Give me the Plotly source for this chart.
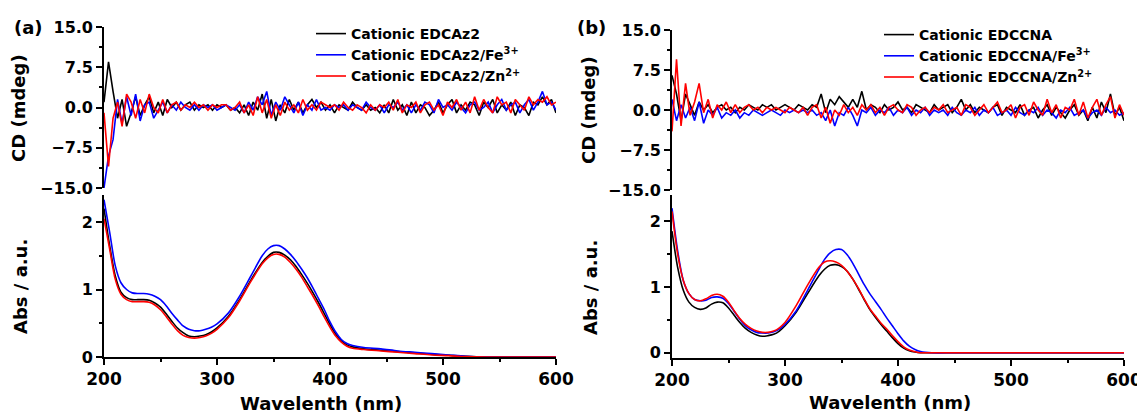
import plotly.graph_objects as go

# CD spectra, sampled every 4 nm from 200 to 600 nm
cd_wl = list(range(200, 601, 4))

cd_a_black = [1.0, 8.5, 3.0, -2.0, 1.5, -3.5, -1.0, 2.0, -1.5, 0.5,
              2.0, -1.0, 1.0, -1.5, 1.5, 0.0, 1.0, -0.5, 0.5, 1.0,
              -0.5, 0.5, 0.0, 0.5, -0.5, 0.5, 0.0, 0.5, -0.5, 0.0,
              -1.0, 0.5, -1.5, 1.0, -0.5, 2.5, -2.0, 1.5, -2.5, 0.5,
              -1.0, 1.5, -0.5, 1.0, -1.0, 0.5, 1.5, 0.0, 1.0, -0.5,
              0.5, -1.0, 0.5, 0.0, -0.5, 1.0, 0.0, -0.5, 0.5, -0.5,
              0.0, -1.0, 0.5, -1.0, 1.5, -0.5, 0.5, -1.5, 1.0, -1.0,
              0.5, 0.0, -1.5, -0.5, 1.0, -1.0, 0.5, 1.5, -1.0, 0.5,
              -0.5, 1.0, 0.5, -1.5, 1.0, 0.0, 1.5, -1.0, 0.5, -0.5,
              1.0, -1.5, 0.5, 0.0, -1.5, 1.0, 0.5, 2.0, 0.5, 1.5,
              -1.0]
cd_a_blue = [-15.0, -9.0, -6.0, 1.5, -3.0, 2.0, -1.5, 2.5, -2.5, 0.5,
             1.0, -2.0, -0.5, 1.0, -1.0, 0.5, -0.5, 1.0, 0.0, -0.5,
             0.5, -0.5, 0.5, 0.0, 0.5, -0.5, 0.0, 0.5, 0.0, -0.5,
             0.5, -1.0, 1.0, -0.5, 2.0, 0.5, 3.0, -1.5, 1.0, -0.5,
             2.0, 0.5, -1.0, 1.0, -1.5, 0.5, -0.5, 1.5, -0.5, 0.0,
             -0.5, 0.5, 0.0, 0.5, -0.5, 0.5, 0.0, -0.5, 1.0, 0.0,
             -0.5, 0.5, -1.0, 0.5, 0.0, 1.0, -0.5, 0.5, -1.0, 0.5,
             -0.5, 1.0, 0.5, -1.0, 1.5, 0.0, 0.5, -0.5, 1.0, 0.0,
             -1.0, 0.5, 1.0, -0.5, 0.0, 1.0, -1.0, 0.5, 1.5, -0.5,
             0.5, 1.0, -1.0, 0.5, 1.5, -0.5, 1.0, 3.0, 0.5, 1.0,
             -0.5]
cd_a_red = [-1.0, -11.0, -2.0, 1.0, -3.5, 2.5, 1.0, -2.0, 1.5, -1.0,
            2.5, 0.0, -1.0, 1.5, -1.0, 0.5, 1.0, -0.5, 0.5, 0.0,
            1.0, 0.0, 0.5, -0.5, 0.5, 0.0, 0.5, 0.5, -0.5, 0.0,
            1.0, -1.0, 0.5, -1.5, 2.0, -1.0, 1.5, -2.0, 0.5, -1.5,
            1.0, -0.5, 0.5, -1.0, 1.5, -0.5, 0.5, -0.5, 1.0, 0.5,
            0.0, 0.5, -0.5, 1.0, 0.0, -0.5, 0.5, 0.0, -1.0, 0.5,
            -0.5, 0.5, 0.0, 1.0, -0.5, 1.5, -1.0, 0.5, 0.0, 1.0,
            -1.0, 0.5, 1.0, -0.5, 0.5, -1.5, 1.0, 0.0, 1.5, -0.5,
            1.0, -1.0, 2.0, -0.5, 1.5, 0.0, -1.0, 2.0, 0.5, 1.0,
            -1.0, 1.5, 0.5, -0.5, 2.0, 0.5, 1.5, 1.0, 2.0, 0.5,
            1.0]

cd_b_black = [6.5, 3.0, -2.0, 3.0, 1.0, -1.0, 1.5, 0.0, 1.0, -0.5,
              0.5, 1.0, 0.0, 0.5, -0.5, 0.5, 0.0, 1.0, 0.5, 0.0,
              1.0, 0.5, 1.0, 0.0, 0.5, 1.0, 0.5, 0.0, 1.0, 0.5,
              0.0, 1.0, 0.5, 3.0, -0.5, 2.0, 1.0, 2.5, 1.5, 0.5,
              2.0, 0.5, 3.5, 0.0, 1.0, 0.5, -0.5, 1.0, 0.0, 0.5,
              1.5, 0.0, 0.5, -0.5, 1.0, 0.5, 0.0, -0.5, 1.0, 0.0,
              0.5, 1.0, -0.5, 0.5, 2.0, 0.0, 1.0, -0.5, 0.5, 0.0,
              -0.5, 0.5, 1.0, -1.0, 0.5, 0.0, -0.5, 1.0, -1.0, 0.0,
              0.5, -1.5, 0.0, 1.0, -1.0, 0.5, -0.5, -1.5, 0.0, 1.0,
              -1.0, 0.0, -2.0, 0.5, -1.5, 1.5, -0.5, 3.0, -1.0, 0.5,
              -2.0]
cd_b_blue = [2.0, -2.0, 1.0, -1.5, 0.5, -2.0, 1.5, -2.5, 0.0, -1.0,
             0.5, -1.5, -0.5, -1.0, 0.0, -1.5, -0.5, -1.0, 0.0, -0.5,
             -1.0, -0.5, 0.0, -0.5, -1.0, 0.0, -0.5, 0.0, -0.5, 0.0,
             -0.5, 0.0, -1.0, -0.5, -2.0, 0.0, -3.0, -0.5, -1.0, 0.5,
             -1.0, -3.0, 0.0, -0.5, 0.5, -1.0, 0.0, -0.5, 0.5, -1.0,
             0.0, -0.5, 0.5, -1.0, 0.0, -0.5, 0.5, -1.0, 0.0, -0.5,
             0.0, -1.0, 0.5, -0.5, -1.0, 0.0, -0.5, 0.5, -1.0, 0.0,
             -0.5, 0.5, -1.0, -0.5, 0.0, -1.0, 0.5, -0.5, -1.0, 0.0,
             -0.5, 0.5, -1.0, 0.0, -0.5, -1.5, 0.0, -0.5, 0.5, -1.0,
             -0.5, 0.0, -1.5, -0.5, 0.0, -1.0, 0.5, -0.5, 0.0, -1.0,
             -0.5]
cd_b_red = [-4.0, 9.5, -3.0, 5.0, -1.0, 1.5, 5.0, -0.5, 2.0, -1.5,
            1.0, 0.0, 1.5, -0.5, 1.0, -0.5, 0.5, 1.0, 0.0, 0.5,
            -0.5, 0.5, 0.0, 0.5, 0.0, -0.5, 0.5, 0.0, -0.5, 0.5,
            -1.0, 0.5, 1.0, -1.5, 0.5, -2.5, 0.0, -1.0, 1.0, -0.5,
            0.5, -1.0, 1.0, 0.0, 1.0, -0.5, 0.5, -1.0, 0.5, 1.0,
            0.0, -0.5, 1.0, 0.5, -1.0, 0.0, 0.5, -0.5, 0.5, 0.0,
            1.0, -0.5, 0.0, 0.5, -1.0, 1.0, 0.5, -1.0, 0.0, 1.0,
            -0.5, 0.5, 1.5, -0.5, 0.0, 1.0, -1.5, 0.5, 1.0, -1.0,
            1.5, 0.0, -1.0, 2.0, -0.5, 1.0, -1.5, 0.5, 0.0, 2.0,
            -1.0, 1.5, -1.5, 0.5, 2.0, -1.0, 1.0, 2.5, -1.5, 1.0,
            -1.0]

# UV-vis absorption
abs_a_wl = [200, 205, 210, 215, 220, 225, 230, 235, 240, 245, 250, 255, 260, 265,
            270, 275, 280, 285, 290, 295, 300, 310, 320, 330, 340, 345, 350, 355,
            360, 365, 370, 375, 380, 385, 390, 395, 400, 405, 410, 415, 420, 430,
            445, 460, 475, 490, 505, 520, 540, 600]
abs_a_black = [2.2, 1.65, 1.2, 0.96, 0.88, 0.85, 0.85, 0.85, 0.84, 0.8, 0.74, 0.64, 0.53, 0.43,
               0.36, 0.31, 0.3, 0.31, 0.33, 0.37, 0.43, 0.6, 0.85, 1.14, 1.40, 1.49, 1.55, 1.55,
               1.51, 1.44, 1.34, 1.22, 1.09, 0.95, 0.8, 0.64, 0.48, 0.34, 0.24, 0.18, 0.15, 0.12,
               0.1, 0.08, 0.06, 0.04, 0.025, 0.01, 0.0, 0.0]
abs_a_blue = [2.33, 1.85, 1.35, 1.1, 1.0, 0.95, 0.94, 0.94, 0.93, 0.9, 0.85, 0.76, 0.65, 0.55,
              0.46, 0.41, 0.39, 0.39, 0.41, 0.44, 0.49, 0.65, 0.9, 1.2, 1.50, 1.6, 1.65, 1.65,
              1.6, 1.52, 1.42, 1.3, 1.17, 1.02, 0.86, 0.7, 0.52, 0.37, 0.26, 0.2, 0.17, 0.14,
              0.12, 0.09, 0.07, 0.05, 0.03, 0.01, 0.0, 0.0]
abs_a_red = [2.05, 1.6, 1.15, 0.93, 0.85, 0.82, 0.82, 0.82, 0.81, 0.77, 0.7, 0.6, 0.49, 0.39,
             0.32, 0.29, 0.28, 0.29, 0.31, 0.35, 0.41, 0.58, 0.83, 1.12, 1.38, 1.47, 1.52, 1.52,
             1.48, 1.4, 1.3, 1.18, 1.04, 0.9, 0.75, 0.59, 0.44, 0.31, 0.22, 0.16, 0.13, 0.11,
             0.09, 0.07, 0.05, 0.03, 0.02, 0.005, 0.0, 0.0]

abs_b_wl = [200, 205, 210, 215, 220, 225, 230, 235, 240, 245, 250, 255, 260, 265,
            270, 275, 280, 285, 290, 295, 300, 310, 320, 330, 335, 340, 345, 350,
            355, 360, 365, 370, 375, 380, 385, 390, 395, 400, 405, 410, 415, 420,
            430, 450, 500, 550, 600]
abs_b_black = [1.85, 1.3, 0.95, 0.77, 0.69, 0.66, 0.68, 0.74, 0.77, 0.76, 0.68, 0.57, 0.46, 0.37,
               0.31, 0.27, 0.25, 0.26, 0.28, 0.33, 0.41, 0.62, 0.9, 1.17, 1.27, 1.33, 1.34, 1.31,
               1.24, 1.12, 0.97, 0.81, 0.66, 0.54, 0.43, 0.33, 0.23, 0.14, 0.07, 0.03, 0.01, 0.0,
               0.0, 0.0, 0.0, 0.0, 0.0]
abs_b_blue = [2.2, 1.55, 1.1, 0.9, 0.81, 0.79, 0.8, 0.84, 0.85, 0.83, 0.75, 0.63, 0.51, 0.41,
              0.35, 0.31, 0.3, 0.3, 0.32, 0.36, 0.43, 0.64, 0.95, 1.27, 1.42, 1.52, 1.57, 1.57,
              1.49, 1.36, 1.2, 1.04, 0.9, 0.78, 0.66, 0.53, 0.41, 0.29, 0.18, 0.1, 0.05, 0.02,
              0.0, 0.0, 0.0, 0.0, 0.0]
abs_b_red = [2.15, 1.5, 1.1, 0.9, 0.81, 0.79, 0.82, 0.87, 0.89, 0.86, 0.77, 0.64, 0.52, 0.43,
             0.37, 0.33, 0.31, 0.31, 0.33, 0.38, 0.46, 0.72, 1.03, 1.3, 1.38, 1.4, 1.38, 1.33,
             1.24, 1.12, 0.98, 0.82, 0.67, 0.56, 0.45, 0.36, 0.26, 0.17, 0.09, 0.04, 0.015, 0.0,
             0.0, 0.0, 0.0, 0.0, 0.0]

names_a = ["Cationic EDCAz2", "Cationic EDCAz2/Fe<sup>3+</sup>", "Cationic EDCAz2/Zn<sup>2+</sup>"]
names_b = ["Cationic EDCCNA", "Cationic EDCCNA/Fe<sup>3+</sup>", "Cationic EDCCNA/Zn<sup>2+</sup>"]
colors = ["#000000", "#0000ff", "#ff0000"]

# the page body keeps its default 8 px margin, so the figure is 8 px smaller
# and every pixel position below is given in window pixels minus that offset
OFF = 8
W, H = 1145 - OFF, 416 - OFF
FONT = "DejaVu Sans"


def px(x):
    return (x - OFF) / W


def py(y):
    return 1 - (y - OFF) / H


fig = go.Figure()

panels = [
    ("x", "y", "x2", "y2", "legend", names_a,
     [cd_a_black, cd_a_blue, cd_a_red], abs_a_wl, [abs_a_black, abs_a_blue, abs_a_red]),
    ("x3", "y3", "x4", "y4", "legend2", names_b,
     [cd_b_black, cd_b_blue, cd_b_red], abs_b_wl, [abs_b_black, abs_b_blue, abs_b_red]),
]

for xa, ya, xb, yb, leg, names, cds, awl, abss in panels:
    for name, col, cd in zip(names, colors, cds):
        fig.add_trace(go.Scatter(x=cd_wl, y=cd, name=name, xaxis=xa, yaxis=ya,
                                 mode="lines", line=dict(color=col, width=1.6),
                                 legend=leg))
    for col, ab in zip(colors, abss):
        fig.add_trace(go.Scatter(x=awl, y=ab, xaxis=xb, yaxis=yb, mode="lines",
                                 line=dict(color=col, width=1.6, shape="spline", smoothing=0.8),
                                 showlegend=False))

tickfont = dict(family=FONT, size=16, color="black", weight="bold")
line_kw = dict(showline=True, linewidth=1.6, linecolor="black", ticks="outside",
               ticklen=6, tickwidth=1.6, tickcolor="black", showgrid=False,
               zeroline=False, tickfont=tickfont, automargin=False)

xa_dom = [px(104), px(556)]
xb_dom = [px(672), px(1124)]
legend_font = dict(family=FONT, size=14, color="black", weight="bold")

fig.update_layout(
    width=W, height=H,
    margin=dict(l=0, r=0, t=0, b=0, autoexpand=False),
    paper_bgcolor="white", plot_bgcolor="white",
    font=dict(family=FONT, color="black"),
    xaxis=dict(domain=xa_dom, range=[200, 600], visible=False, anchor="y", automargin=False),
    yaxis=dict(domain=[py(188), py(27)], range=[-15, 15], tickvals=[-15, -7.5, 0, 7.5, 15],
               tickformat=".1f", minor=dict(ticks="outside", ticklen=3, dtick=3.75, tickcolor="black"),
               anchor="x", **line_kw),
    xaxis2=dict(domain=xa_dom, range=[200, 600], dtick=100, anchor="y2",
                minor=dict(ticks="outside", ticklen=3, dtick=50, tickcolor="black"),
                **{**line_kw, "tickfont": dict(tickfont, size=17)}),
    yaxis2=dict(domain=[py(357), py(195)], range=[0, 2.4], dtick=1, anchor="x2",
                minor=dict(ticks="outside", ticklen=3, dtick=0.5, tickcolor="black"), **line_kw),
    xaxis3=dict(domain=xb_dom, range=[200, 600], visible=False, anchor="y3", automargin=False),
    yaxis3=dict(domain=[py(190), py(30)], range=[-15, 15], tickvals=[-15, -7.5, 0, 7.5, 15],
                tickformat=".1f", minor=dict(ticks="outside", ticklen=3, dtick=3.75, tickcolor="black"),
                anchor="x3", **line_kw),
    xaxis4=dict(domain=xb_dom, range=[200, 600], dtick=100, anchor="y4",
                minor=dict(ticks="outside", ticklen=3, dtick=50, tickcolor="black"),
                **{**line_kw, "tickfont": dict(tickfont, size=17)}),
    yaxis4=dict(domain=[py(358), py(195)], range=[-0.08, 2.4], dtick=1, anchor="x4",
                minor=dict(ticks="outside", ticklen=3, dtick=0.5, tickcolor="black"), **line_kw),
    legend=dict(x=px(311), y=py(18), xanchor="left", yanchor="top", bgcolor="rgba(0,0,0,0)",
                font=legend_font, tracegroupgap=0),
    legend2=dict(x=px(879), y=py(19), xanchor="left", yanchor="top", bgcolor="rgba(0,0,0,0)",
                 font=legend_font, tracegroupgap=0),
)

labels = [
    ("(a)", 28, 27, 0), ("(b)", 591, 27, 0),
    ("CD (mdeg)", 18, 108, -90), ("Abs / a.u.", 20, 287, -90),
    ("CD (mdeg)", 588, 110, -90), ("Abs / a.u.", 590, 288, -90),
    ("Wavelenth (nm)", 321, 403, 0), ("Wavelenth (nm)", 890, 402, 0),
]
for text, x, y, ang in labels:
    fig.add_annotation(text=text, x=px(x), y=py(y), xref="paper", yref="paper",
                       xanchor="center", yanchor="middle", showarrow=False, textangle=ang,
                       font=dict(family=FONT, size=18, color="black", weight="bold"))

fig.write_html("out.html")
